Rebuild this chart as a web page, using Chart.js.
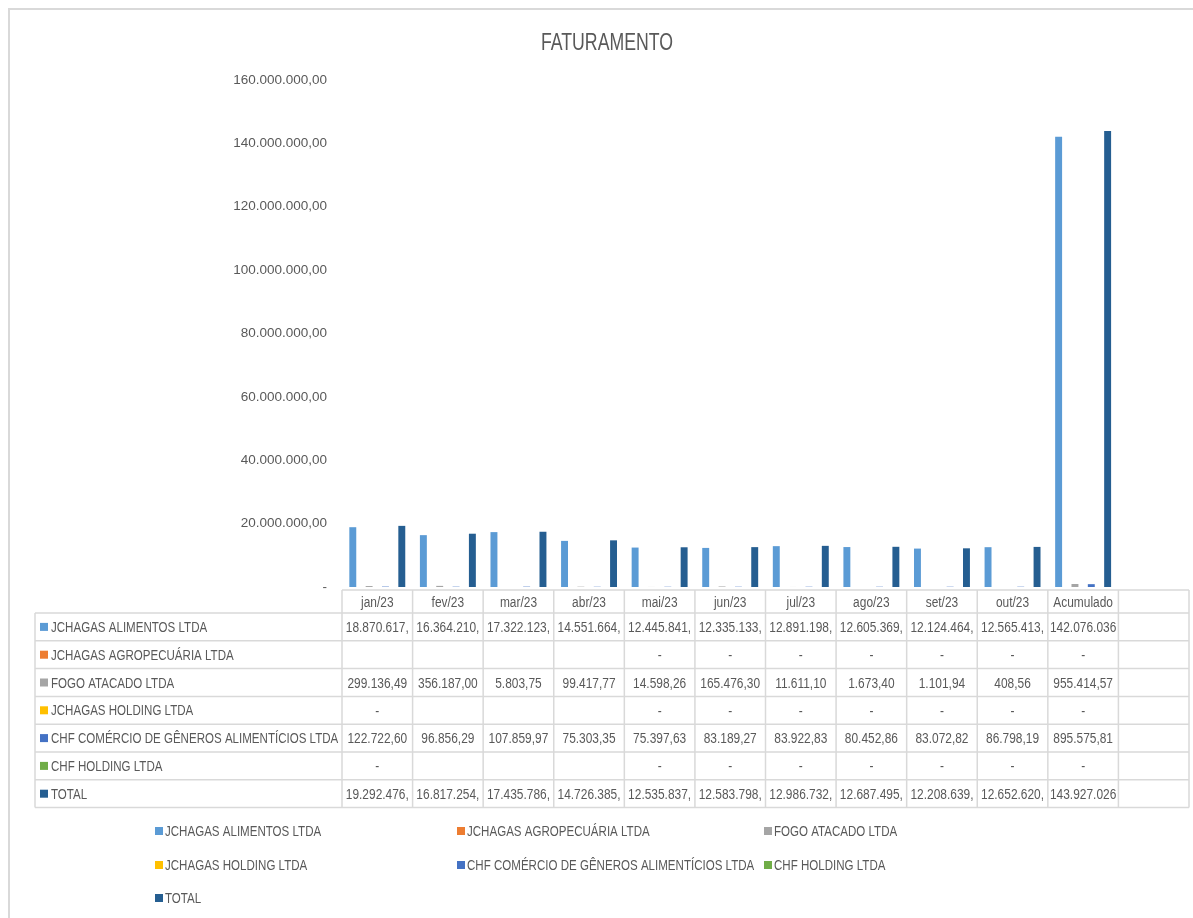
<!DOCTYPE html>
<html>
<head>
<meta charset="utf-8">
<script src="https://cdn.jsdelivr.net/npm/chart.js@4"></script>
<style>
  html, body { margin: 0; padding: 0; background: #fff; }
  #wrap { width: 1193px; height: 918px; position: relative; }
</style>
</head>
<body>
<div id="wrap"><canvas id="myChart" width="1193" height="918"></canvas></div>
<script>
const categories = ["jan/23", "fev/23", "mar/23", "abr/23", "mai/23", "jun/23", "jul/23", "ago/23", "set/23", "out/23", "Acumulado", ""];
const yTicks = [0, 20000000, 40000000, 60000000, 80000000, 100000000, 120000000, 140000000, 160000000];

const seriesNames = [
  "JCHAGAS ALIMENTOS LTDA",
  "JCHAGAS AGROPECUÁRIA LTDA",
  "FOGO ATACADO LTDA",
  "JCHAGAS HOLDING LTDA",
  "CHF COMÉRCIO DE GÊNEROS ALIMENTÍCIOS LTDA",
  "CHF HOLDING LTDA",
  "TOTAL"
];
const seriesColors = ["#5B9BD5", "#ED7D31", "#A5A5A5", "#FFC000", "#4472C4", "#70AD47", "#255E91"];

// null = celula vazia, 0 = "-"
const alimentos = [18870617, 16364210, 17322123, 14551664, 12445841, 12335133, 12891198, 12605369, 12124464, 12565413, 142076036, null];
const agropecuaria = [null, null, null, null, 0, 0, 0, 0, 0, 0, 0, null];
const fogoAtacado = [299136.49, 356187.00, 5803.75, 99417.77, 14598.26, 165476.30, 11611.10, 1673.40, 1101.94, 408.56, 955414.57, null];
const jchagasHolding = [0, null, null, null, 0, 0, 0, 0, 0, 0, 0, null];
const chfComercio = [122722.60, 96856.29, 107859.97, 75303.35, 75397.63, 83189.27, 83922.83, 80452.86, 83072.82, 86798.19, 895575.81, null];
const chfHolding = [0, null, null, null, 0, 0, 0, 0, 0, 0, 0, null];
const total = [19292476, 16817254, 17435786, 14726385, 12535837, 12583798, 12986732, 12687495, 12208639, 12652620, 143927026, null];

const seriesData = [alimentos, agropecuaria, fogoAtacado, jchagasHolding, chfComercio, chfHolding, total];

const FONT = "'Liberation Sans', Arial, sans-serif";
const TXT = "#595959";
const LINE = "#D9D9D9";
const SX = 0.77; // texto estreito tipo Calibri

function fmt(v) {
  if (v === null || v === undefined) return "";
  if (v === 0) return "-";
  return v.toLocaleString("pt-BR", { minimumFractionDigits: 2, maximumFractionDigits: 2 });
}

function textW(c, s) { return c.measureText(s).width * SX; }
function drawText(c, s, x, y) {
  c.save();
  c.translate(x, y);
  c.scale(SX, 1);
  c.fillText(s, 0, 0);
  c.restore();
}

// titulo, tabela de dados, legenda e moldura
const tablePlugin = {
  id: "dataTable",
  beforeDraw(chart) {
    const c = chart.ctx;
    c.save();
    c.strokeStyle = LINE;
    c.lineWidth = 2;
    c.strokeRect(9, 9, 1200, 930);
    c.font = "23px " + FONT;
    c.fillStyle = TXT;
    c.textBaseline = "middle";
    c.textAlign = "left";
    const t = "FATURAMENTO";
    drawText(c, t, 607 - textW(c, t) / 2, 44);
    c.restore();
  },
  afterDraw(chart) {
    const c = chart.ctx;
    const area = chart.chartArea;
    const n = categories.length;
    const colW = (area.right - area.left) / n;
    const headTop = 590, rowTop = 613, rowH = 27.8;
    const tableLeft = 35;
    const bottom = rowTop + rowH * seriesNames.length;

    c.save();
    c.strokeStyle = LINE;
    c.lineWidth = 1.5;
    c.beginPath();
    c.moveTo(area.left, headTop); c.lineTo(area.right, headTop);
    for (let r = 0; r <= seriesNames.length; r++) {
      const y = rowTop + r * rowH;
      c.moveTo(tableLeft, y); c.lineTo(area.right, y);
    }
    c.moveTo(tableLeft, rowTop); c.lineTo(tableLeft, bottom);
    for (let i = 0; i <= n; i++) {
      const x = area.left + i * colW;
      c.moveTo(x, headTop); c.lineTo(x, bottom);
    }
    c.stroke();

    const valFont = "15.5px " + FONT;
    const labFont = "15px " + FONT;
    c.fillStyle = TXT;
    c.textBaseline = "middle";
    c.textAlign = "left";

    // cabecalho
    c.font = valFont;
    categories.forEach((cat, i) => {
      const w = textW(c, cat);
      drawText(c, cat, area.left + i * colW + (colW - w) / 2, (headTop + rowTop) / 2 + 1);
    });

    // linhas de series
    seriesNames.forEach((name, r) => {
      const yc = rowTop + (r + 0.5) * rowH + 1;
      c.fillStyle = seriesColors[r];
      c.fillRect(40, yc - 5, 8, 8);
      c.fillStyle = TXT;
      c.font = labFont;
      drawText(c, name, 51, yc);
      c.font = valFont;
      seriesData[r].forEach((v, i) => {
        let s = fmt(v);
        if (!s) return;
        while (s.length > 1 && textW(c, s) > colW - 2) s = s.slice(0, -1);
        const w = textW(c, s);
        drawText(c, s, area.left + i * colW + (colW - w) / 2, yc);
      });
    });

    // legenda
    c.font = labFont;
    const legX = [155, 457, 764];
    const legY = [832, 866, 899];
    seriesNames.forEach((name, k) => {
      const x = legX[k % 3], y = legY[Math.floor(k / 3)];
      c.fillStyle = seriesColors[k];
      c.fillRect(x, y - 5, 8, 8);
      c.fillStyle = TXT;
      drawText(c, name, x + 10, y);
    });
    c.restore();
  }
};

const ctx = document.getElementById("myChart").getContext("2d");
new Chart(ctx, {
  type: "bar",
  data: {
    labels: categories,
    datasets: seriesNames.map((name, k) => ({
      label: name,
      data: seriesData[k],
      backgroundColor: seriesColors[k],
      borderWidth: 0,
      categoryPercentage: 0.81,
      barPercentage: 0.85
    }))
  },
  options: {
    responsive: false,
    animation: false,
    layout: { padding: { left: 0, right: 4, top: 80, bottom: 331 } },
    plugins: {
      legend: { display: false },
      tooltip: { enabled: false },
      title: { display: false }
    },
    scales: {
      x: { display: false },
      y: {
        min: 0,
        max: 160000000,
        afterFit(scale) { scale.width = 342; },
        afterBuildTicks(scale) { scale.ticks = yTicks.map(v => ({ value: v })); },
        grid: { display: false, drawTicks: false },
        border: { display: false },
        ticks: {
          padding: 15,
          color: TXT,
          font: { family: FONT, size: 13.5 },
          callback: (v) => fmt(v)
        }
      }
    }
  },
  plugins: [tablePlugin]
});
</script>
</body>
</html>
